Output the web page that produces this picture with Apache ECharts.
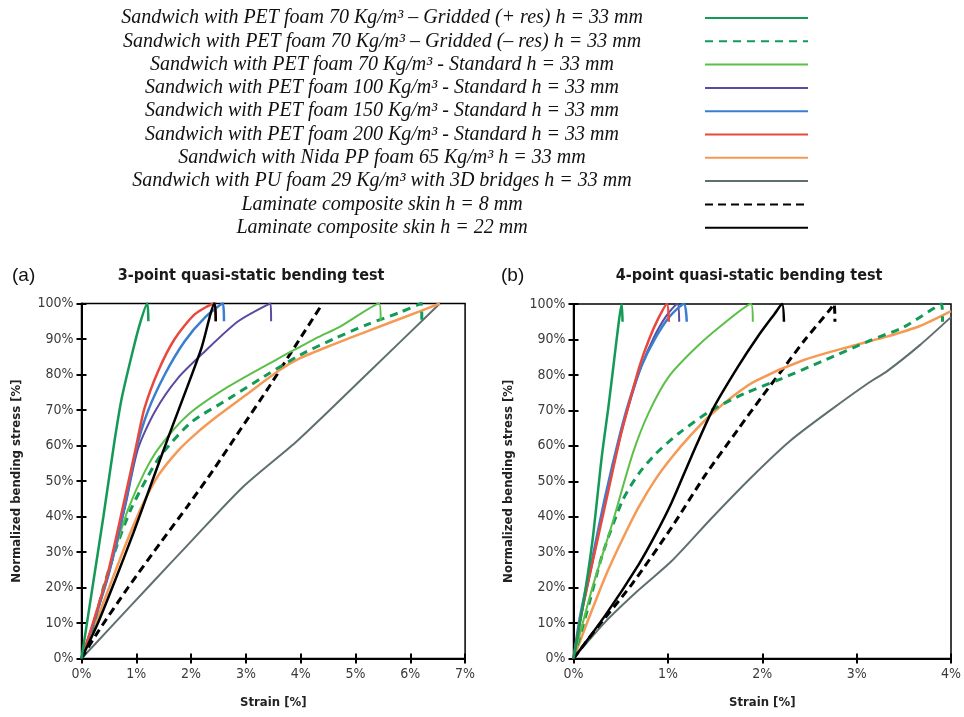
<!DOCTYPE html>
<html>
<head>
<meta charset="utf-8">
<script src="https://cdn.jsdelivr.net/npm/echarts@6/dist/echarts.min.js"></script>
<style>html,body{margin:0;padding:0;background:#fff}#c{width:964px;height:717px}</style>
</head>
<body>
<div id="c"></div>
<script>
// ---- Series names (legend) ----
const seriesNames = [
  'Sandwich with PET foam 70 Kg/m\u00b3 \u2013 Gridded (+ res) h = 33 mm',
  'Sandwich with PET foam 70 Kg/m\u00b3 \u2013 Gridded (\u2013 res) h = 33 mm',
  'Sandwich with PET foam 70 Kg/m\u00b3 - Standard h = 33 mm',
  'Sandwich with PET foam 100 Kg/m\u00b3 - Standard h = 33 mm',
  'Sandwich with PET foam 150 Kg/m\u00b3 - Standard h = 33 mm',
  'Sandwich with PET foam 200 Kg/m\u00b3 - Standard h = 33 mm',
  'Sandwich with Nida PP foam 65 Kg/m\u00b3 h = 33 mm',
  'Sandwich with PU foam 29 Kg/m\u00b3 with 3D bridges h = 33 mm',
  'Laminate composite skin h = 8 mm',
  'Laminate composite skin h = 22 mm'
];

// ---- Panel (a): 3-point bending, [strain %, normalized stress %] ----
const a_gridPlus   = [[0,0],[0.2,20],[0.4,40],[0.59,60],[0.73,73],[0.91,85],[1.06,94],[1.2,100],[1.22,95]];
const a_gridMinus  = [[0,0],[0.2,8.5],[0.42,21],[0.65,32],[0.9,42],[1.2,51],[1.46,57.5],[2.0,66.5],[2.67,73],[3.34,79.5],[3.99,85.5],[4.6,90],[5.2,94],[5.81,97.5],[6.2,100],[6.21,95]];
const a_pet70      = [[0,0],[0.21,10],[0.45,22],[0.64,32],[0.85,42],[1.15,52.5],[1.42,59.5],[1.94,68.6],[2.67,76.5],[3.59,84.5],[3.99,87.8],[4.32,90.5],[4.72,93.5],[5.43,100],[5.46,95]];
const a_pet100     = [[0,0],[0.22,10],[0.5,24],[0.8,43],[1.03,59],[1.34,69.6],[1.76,79],[2.25,86.5],[2.86,95],[3.45,100],[3.46,95]];
const a_pet150     = [[0,0],[0.22,10],[0.5,24],[0.79,43],[1.0,59],[1.21,69.6],[1.52,80],[1.88,89.3],[2.25,96],[2.58,100],[2.6,95]];
const a_pet200     = [[0,0],[0.21,10],[0.48,24],[0.76,43],[1.0,60],[1.15,70.5],[1.4,81],[1.7,90],[2.07,97],[2.42,100],[2.45,95]];
const a_nida       = [[0,0],[0.18,7],[0.48,19],[0.79,31.5],[1.09,42.5],[1.4,51.5],[1.76,58.5],[2.1,63.5],[2.5,68.5],[2.98,74],[3.59,81],[3.99,84.6],[4.6,88.5],[5.2,92.1],[5.9,96.2],[6.54,100]];
const a_pu         = [[0,0],[0.54,8.9],[1.27,21],[2.0,33],[2.95,48.4],[3.95,61.5],[5.2,80],[6.54,100]];
const a_lam8       = [[0,0],[0.3,7.5],[0.85,20],[1.46,33],[1.94,43],[2.4,53],[2.9,64.5],[3.4,76],[3.9,88],[4.4,100]];
const a_lam22      = [[0,0],[0.3,10],[0.6,21.5],[0.95,35.5],[1.28,49.5],[1.6,63],[1.93,76.5],[2.19,87.5],[2.43,100],[2.45,95]];

// ---- Panel (b): 4-point bending ----
const b_gridPlus   = [[0,0],[0.1,15],[0.2,33],[0.3,57],[0.37,71],[0.43,84],[0.48,95],[0.51,100],[0.52,95]];
const b_gridMinus  = [[0,0],[0.14,13],[0.31,29.6],[0.52,44.6],[0.69,52.1],[0.87,57.7],[1.11,63.4],[1.46,70],[1.81,74.7],[2.2,78.9],[2.65,84],[3.14,89.7],[3.5,93.5],[3.9,100],[3.91,95]];
const b_pet70      = [[0,0],[0.2,20],[0.41,38],[0.63,58],[0.8,69.5],[1.01,79.5],[1.29,87.5],[1.57,94],[1.88,100],[1.9,95]];
const b_pet100     = [[0,0],[0.08,12],[0.2,27],[0.34,45],[0.5,63],[0.61,73.5],[0.72,82.5],[0.85,90.5],[0.98,96.5],[1.1,100],[1.12,95]];
const b_pet150     = [[0,0],[0.07,12],[0.19,27],[0.33,45],[0.49,63],[0.6,73.5],[0.72,82.5],[0.87,90.5],[1.02,96.5],[1.17,100],[1.2,95]];
const b_pet200     = [[0,0],[0.08,12],[0.2,27],[0.35,45],[0.5,63],[0.6,73],[0.7,82.5],[0.8,90],[0.9,96],[0.99,100],[1.01,95]];
const b_nida       = [[0,0],[0.17,11.9],[0.34,23.3],[0.52,33.7],[0.69,42.7],[0.87,50.6],[1.04,56.7],[1.25,63.2],[1.46,68.9],[1.7,74.2],[1.92,78.2],[2.44,84.2],[2.97,88.3],[3.32,90.8],[3.67,93.8],[4.0,98]];
const b_pu         = [[0,0],[0.34,10.4],[0.69,19.3],[1.04,27.5],[1.46,39.5],[1.88,51],[2.3,61.5],[2.72,70],[3.14,78],[3.32,81],[3.67,88.4],[4.0,96.3]];
const b_lam8       = [[0,0],[0.2,7],[0.62,21],[1.04,37],[1.39,51.5],[1.74,64.5],[2.0,74],[2.2,81],[2.44,89.5],[2.72,98.5],[2.76,100],[2.77,95]];
const b_lam22      = [[0,0],[0.34,12.3],[0.69,26.5],[0.87,35],[1.04,44],[1.25,57],[1.48,70.5],[1.74,82.2],[1.95,90.7],[2.13,97.2],[2.21,100],[2.23,95]];

// ---- Axis ticks ----
const aStrainTicks = [0,1,2,3,4,5,6,7];
const bStrainTicks = [0,1,2,3,4];
const stressTicks  = [0,10,20,30,40,50,60,70,80,90,100];

// ---- styles ----
const styles = [
  {color:'#139a57', width:2.5, type:'solid'},
  {color:'#139a57', width:3, type:[8,6]},
  {color:'#5cbf48', width:2, type:'solid'},
  {color:'#5a4aa0', width:2, type:'solid'},
  {color:'#3a7ed0', width:2.5, type:'solid'},
  {color:'#e8483d', width:2.5, type:'solid'},
  {color:'#f59a55', width:2.5, type:'solid'},
  {color:'#5f6e6e', width:2, type:'solid'},
  {color:'#000000', width:3, type:[8,5]},
  {color:'#000000', width:2.5, type:'solid'}
];
const aData = [a_gridPlus,a_gridMinus,a_pet70,a_pet100,a_pet150,a_pet200,a_nida,a_pu,a_lam8,a_lam22];
const bData = [b_gridPlus,b_gridMinus,b_pet70,b_pet100,b_pet150,b_pet200,b_nida,b_pu,b_lam8,b_lam22];
const drawOrder = [7,8,6,1,2,3,4,5,9,0];

const condensed = "'DejaVu Sans Condensed', 'Liberation Sans Narrow', 'Roboto Condensed', sans-serif";
const tickFont = {fontFamily:condensed, fontSize:14, color:'#3a3a3a'};
const nameFont = {fontFamily:condensed, fontSize:13, fontWeight:'bold', color:'#222'};

function xAxes(gi, ticks){
  const max = ticks[ticks.length-1];
  return [
    {type:'value', gridIndex:gi, min:ticks[0], max:max, interval:1,
     name:'Strain [%]', nameLocation:'middle', nameGap:38, nameTextStyle:nameFont,
     axisLine:{lineStyle:{color:'#000', width:2}},
     axisTick:{show:true, length:5, lineStyle:{color:'#000', width:2}},
     axisLabel:Object.assign({formatter:'{value}%', margin:9}, tickFont),
     splitLine:{show:false}},
    {type:'value', gridIndex:gi, position:'bottom', min:ticks[0], max:max, interval:1,
     axisLine:{show:false}, axisLabel:{show:false},
     axisTick:{show:true, inside:true, length:5, lineStyle:{color:'#000', width:2}},
     splitLine:{show:false}}
  ];
}
function yAxes(gi){
  return [
    {type:'value', gridIndex:gi, min:stressTicks[0], max:stressTicks[stressTicks.length-1], interval:10,
     name:'Normalized bending stress [%]', nameLocation:'middle', nameGap:58, nameTextStyle:nameFont,
     axisLine:{lineStyle:{color:'#000', width:2}},
     axisTick:{show:true, length:5, lineStyle:{color:'#000', width:2}},
     axisLabel:Object.assign({formatter:'{value}%', margin:8}, tickFont),
     splitLine:{show:false}},
    {type:'value', gridIndex:gi, position:'left', min:0, max:100, interval:10,
     axisLine:{show:false}, axisLabel:{show:false},
     axisTick:{show:true, inside:true, length:5, lineStyle:{color:'#000', width:2}},
     splitLine:{show:false}}
  ];
}

const series = [];
[aData, bData].forEach((set, gi) => {
  drawOrder.forEach(i => {
    series.push({
      type:'line', name:seriesNames[i], data:set[i],
      xAxisIndex: gi*2, yAxisIndex: gi*2,
      symbol:'none', smooth:0.25, clip:false,
      lineStyle:{color:styles[i].color, width:styles[i].width, type:styles[i].type},
      itemStyle:{color:styles[i].color},
      z: 3, animation:false
    });
  });
});

const chart = echarts.init(document.getElementById('c'), null, {renderer:'canvas'});
chart.setOption({
  backgroundColor:'#fff',
  animation:false,
  title:[
    {text:'(a)', left:7, top:261, textStyle:{fontFamily:'Liberation Sans', fontSize:19, fontWeight:'normal', color:'#111'}},
    {text:'3-point quasi-static bending test', left:246, top:263, textAlign:'center',
     textStyle:{fontFamily:condensed, fontSize:16, fontWeight:'bold', color:'#1a1a1a'}},
    {text:'(b)', left:496, top:261, textStyle:{fontFamily:'Liberation Sans', fontSize:19, fontWeight:'normal', color:'#111'}},
    {text:'4-point quasi-static bending test', left:744, top:263, textAlign:'center',
     textStyle:{fontFamily:condensed, fontSize:16, fontWeight:'bold', color:'#1a1a1a'}}
  ],
  legend:{
    data: seriesNames,
    orient:'vertical', align:'right',
    left:59, top:3,
    itemWidth:103, itemHeight:14, itemGap:3.3,
    selectedMode:false,
    itemStyle:{opacity:0, color:'rgba(0,0,0,0)', borderWidth:0},
    formatter: name => '{t|' + name + '}',
    textStyle:{
      rich:{t:{width:636, align:'center', lineHeight:20, height:20,
        fontFamily:'Liberation Serif', fontStyle:'italic', fontSize:20, color:'#111'}}
    }
  },
  grid:[
    {left:81.5, top:303.5, width:383.6, height:355, show:true, borderColor:'#000', borderWidth:1.5, containLabel:false},
    {left:573.5, top:304, width:381.6, height:354.5, show:true, borderColor:'#000', borderWidth:1.5, containLabel:false}
  ],
  xAxis: xAxes(0, aStrainTicks).concat(xAxes(1, bStrainTicks)),
  yAxis: yAxes(0).concat(yAxes(1)),
  series: series
});
</script>
</body>
</html>
